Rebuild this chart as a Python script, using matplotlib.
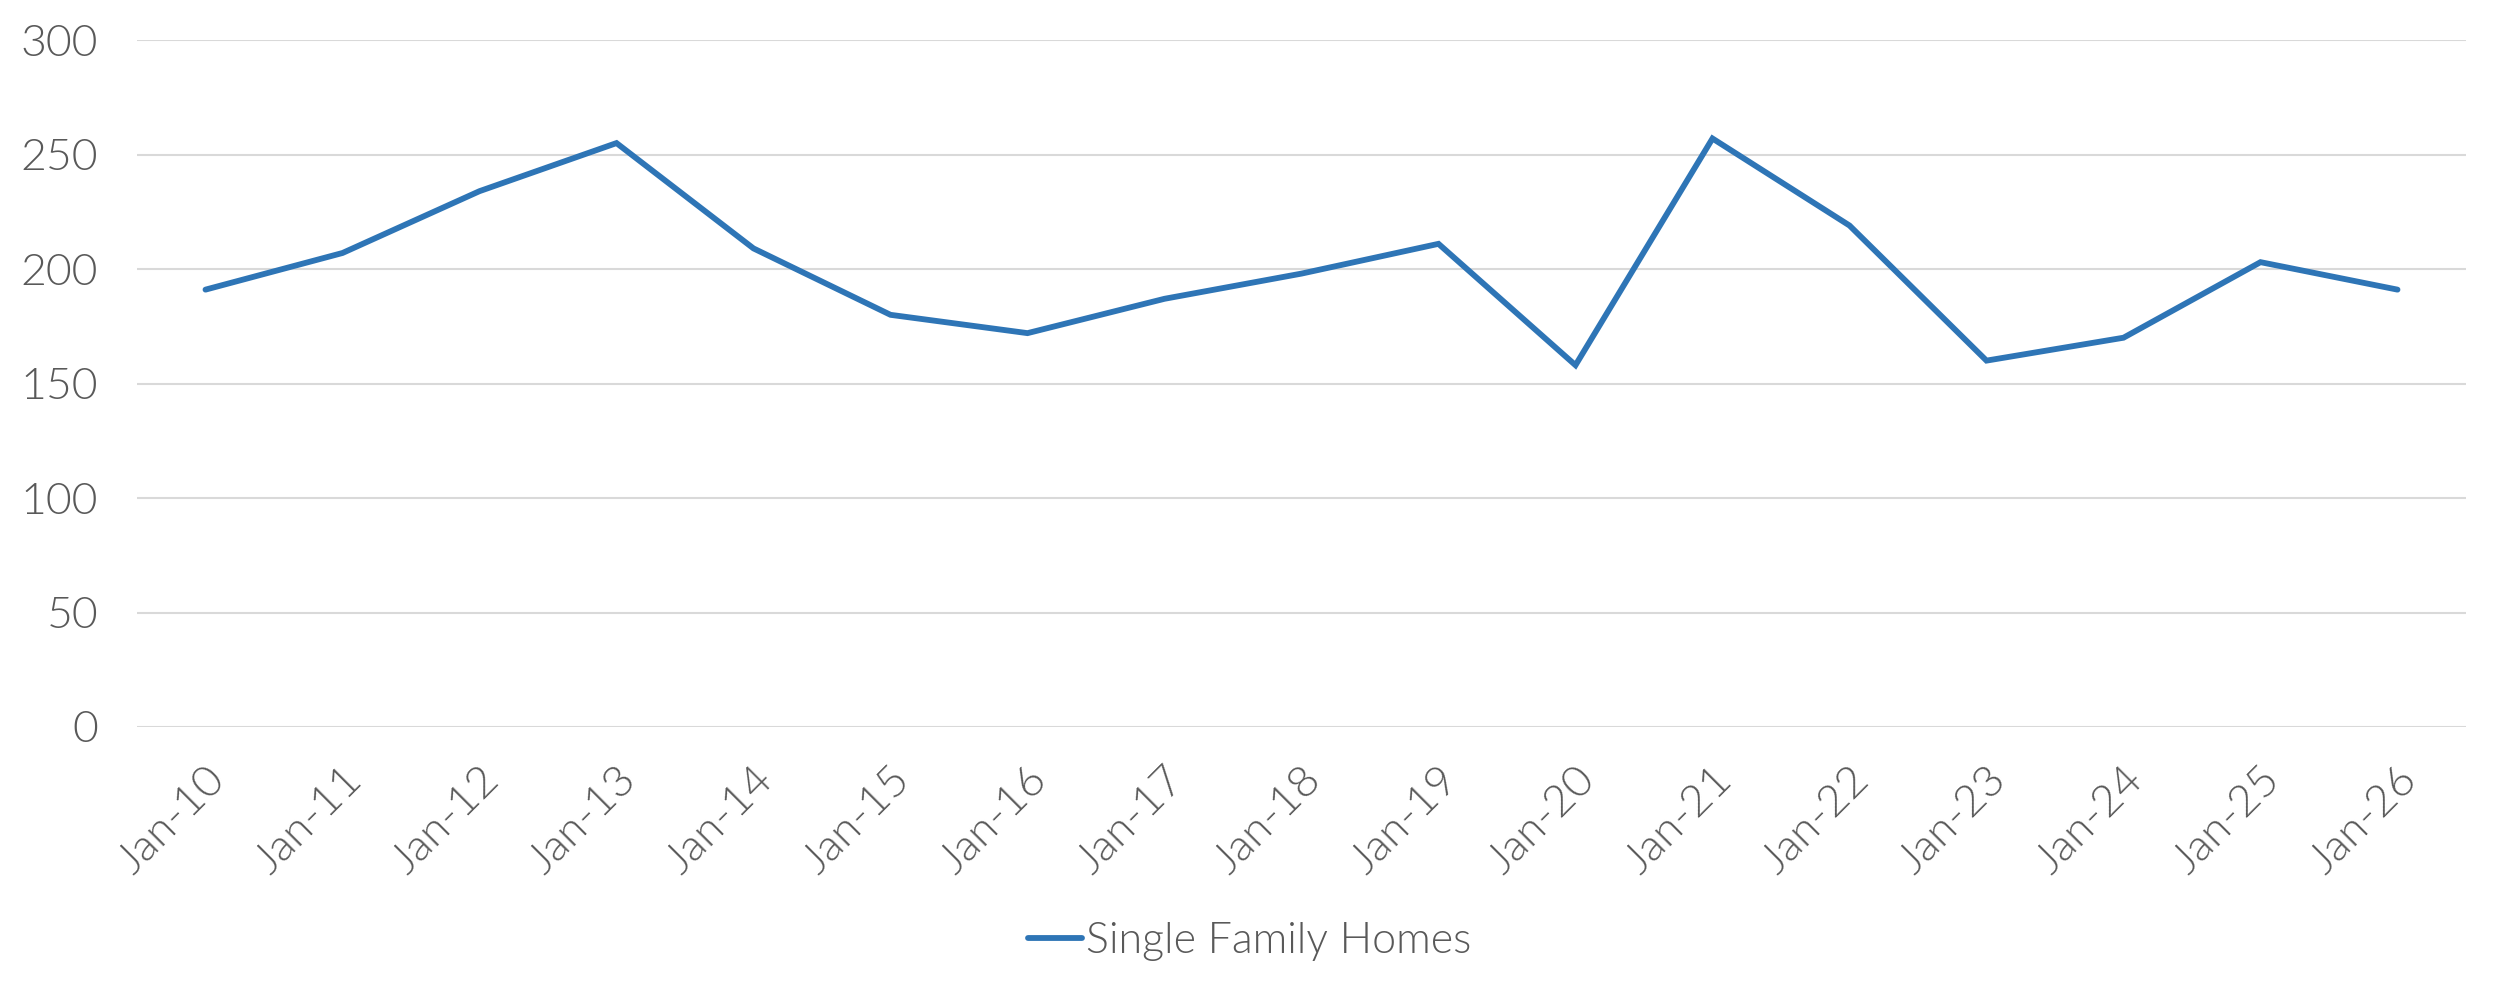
import matplotlib
matplotlib.use("Agg")
import matplotlib.pyplot as plt

labels = ['Jan-10', 'Jan-11', 'Jan-12', 'Jan-13', 'Jan-14', 'Jan-15', 'Jan-16', 'Jan-17', 'Jan-18',
          'Jan-19', 'Jan-20', 'Jan-21', 'Jan-22', 'Jan-23', 'Jan-24', 'Jan-25', 'Jan-26']
homes = [191, 207, 234, 255, 209, 180, 172, 187, 198, 211, 158, 257, 219, 160, 170, 203, 191]
yticks = [0, 50, 100, 150, 200, 250, 300]

# Lato Light is weight 300 ('light' in matplotlib means 200, which picks Hairline)
plt.rcParams['font.family'] = ['Lato', 'DejaVu Sans']
plt.rcParams['font.weight'] = 300
txt = '#595959'

fig = plt.figure(figsize=(25, 9.91), dpi=100)
ax = fig.add_axes([0.0548, 0.2664, 0.9316, 0.6932])

x = list(range(len(labels)))
ax.plot(x, homes, color='#2E75B6', linewidth=4.2, solid_capstyle='round',
        solid_joinstyle='miter', label='Single Family Homes', zorder=3)

ax.set_xlim(-0.5, len(labels) - 0.5)
ax.set_ylim(0, 300)
ax.set_yticks(yticks)
ax.set_xticks(x)
ax.set_xticklabels(labels, rotation=45, ha='right', rotation_mode='anchor')
ax.grid(axis='y', color='#D9D9D9', linewidth=1.5)
ax.set_axisbelow(True)
for s in ax.spines.values():
    s.set_visible(False)
ax.tick_params(axis='both', length=0, labelsize=32, labelcolor=txt)
ax.tick_params(axis='y', pad=28)
ax.tick_params(axis='x', pad=24)

leg = fig.legend(loc='center', bbox_to_anchor=(0.5, 0.05), frameon=False, fontsize=31,
                 handlelength=1.25, handletextpad=0.1)
for t in leg.get_texts():
    t.set_color(txt)

fig.savefig('out.png', dpi=100, facecolor='white')
